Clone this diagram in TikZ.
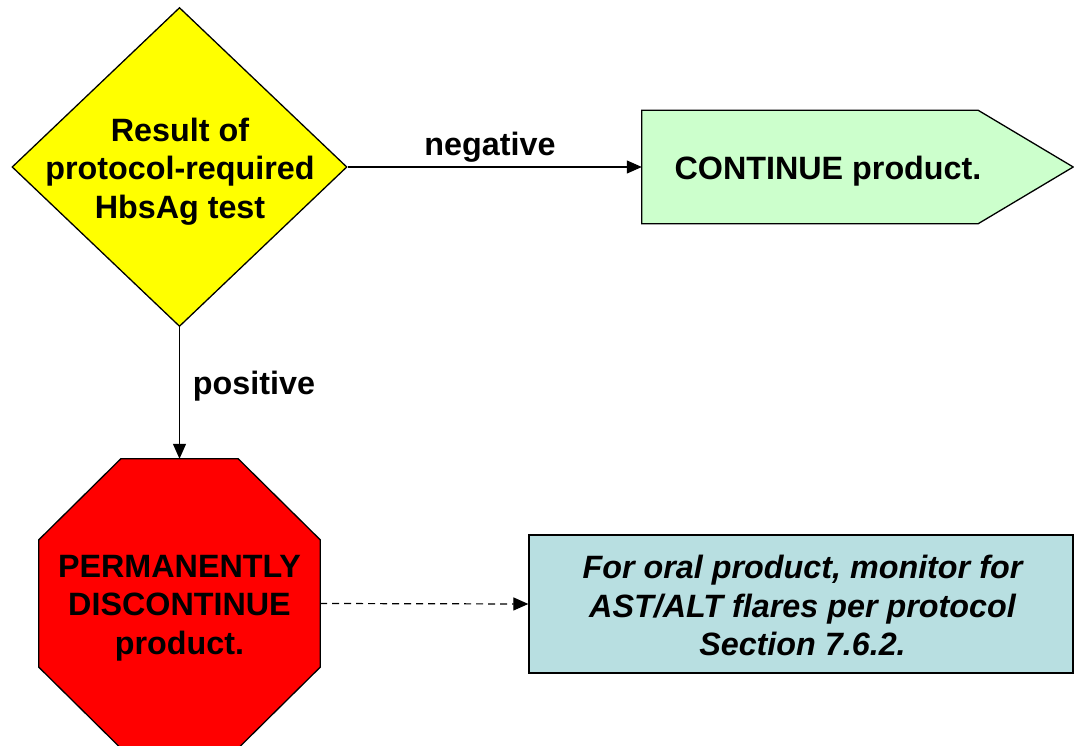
\documentclass[tikz,border=0pt]{standalone}
\usepackage{fontspec}
\setmainfont{Liberation Sans}
\usetikzlibrary{shapes.geometric,arrows.meta}
\definecolor{decisionyellow}{HTML}{FFFF00}
\definecolor{goodgreen}{HTML}{CCFFCC}
\definecolor{stopred}{HTML}{FF0000}
\definecolor{notecyan}{HTML}{B8DFE1}
\begin{document}
\begin{tikzpicture}[x=1pt,y=1pt,
  shapeline/.style={draw=black,line width=1.3pt,line join=miter},
  label text/.style={font=\fontsize{32.3}{38.5}\selectfont\bfseries,align=center,inner sep=0},
  flow/.style={line width=1.2pt,-{Triangle[length=15pt,width=13pt]}},
  dashflow/.style={flow,dash pattern=on 7pt off 5pt}]
\useasboundingbox (0,0) rectangle (1074,745);
\clip (0,0) rectangle (1074,745);

% decision diamond
\node[diamond,shapeline,fill=decisionyellow,inner sep=0,
      minimum width=335pt,minimum height=319pt] (test) at (179.5,578) {};
\node[label text] (testtxt) at (180,573.5)
  {Result of\\protocol-required\\HbsAg test};

% continue arrow shape (pentagon)
\node[inner sep=0,minimum width=431pt,minimum height=113pt] (cont) at (857.5,578) {};
\draw[shapeline,fill=goodgreen]
  (cont.north west) -- ([xshift=-95pt]cont.north east) -- (cont.east)
  -- ([xshift=-95pt]cont.south east) -- (cont.south west) -- cycle;
\node[label text] (conttxt) at (828,573.5) {CONTINUE product.};

% stop octagon
\node[inner sep=0,minimum width=281pt,minimum height=289pt] (stop) at (179.5,141.5) {};
\draw[shapeline,fill=stopred]
  ([xshift=82pt]stop.north west) -- ([xshift=-82pt]stop.north east)
  -- ([yshift=-81pt]stop.north east) -- ([yshift=81pt]stop.south east)
  -- ([xshift=-82pt]stop.south east) -- ([xshift=82pt]stop.south west)
  -- ([yshift=81pt]stop.south west) -- ([yshift=-81pt]stop.north west) -- cycle;
\node[label text] (stoptxt) at (179.5,137)
  {PERMANENTLY\\DISCONTINUE\\product.};

% monitoring note
\node[shapeline,fill=notecyan,inner sep=0,minimum width=544pt,minimum height=138pt]
  (note) at (801,141) {};
\node[label text,font=\fontsize{32.3}{38.5}\selectfont\bfseries\itshape] (notetxt) at (802.5,139.5)
  {For oral product, monitor for\\AST/ALT flares per protocol\\Section 7.6.2.};

% connectors
\draw[flow] (test.east) -- (cont.west);
\draw[flow] (test.south) -- (stop.north);
\draw[dashflow] (stop.east) -- (note.west);

% connector labels
\node[label text] (neg) at (490,598) {negative};
\node[label text] (pos) at (254,359) {positive};
\end{tikzpicture}
\end{document}
